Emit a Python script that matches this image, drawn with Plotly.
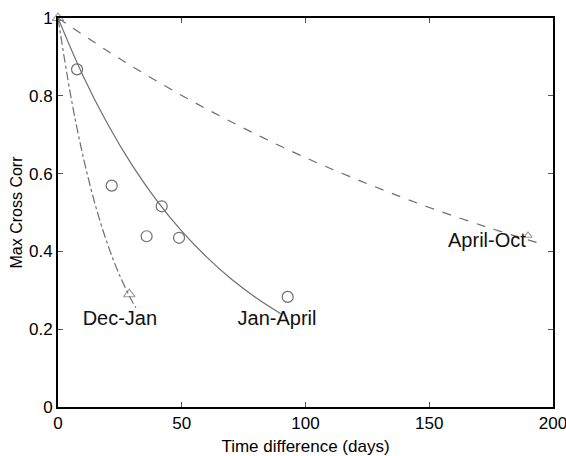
import plotly.graph_objects as go

# Fitted decay curves
janapr_x = [0, 10, 20, 30, 40, 50, 60, 70, 80, 90]
janapr_y = [1.0, 0.853, 0.728, 0.621, 0.530, 0.452, 0.386, 0.329, 0.281, 0.240]

decjan_x = [0, 5, 10, 15, 20, 25, 30, 31.5]
decjan_y = [1.0, 0.805, 0.648, 0.521, 0.419, 0.337, 0.271, 0.255]

aproct_x = [0, 25, 50, 75, 100, 125, 150, 175, 195]
aproct_y = [1.0, 0.895, 0.801, 0.717, 0.641, 0.574, 0.513, 0.459, 0.420]

# Observed points
circ_x = [7.7, 21.7, 35.8, 41.9, 48.9, 92.8]
circ_y = [0.868, 0.569, 0.439, 0.516, 0.435, 0.283]

tri_x = [0, 28.8, 189.9]
tri_y = [1.0, 0.29, 0.441]

labels = ["Dec-Jan", "Jan-April", "April-Oct"]
label_x = [25, 88.5, 173.3]
label_y = [0.223, 0.223, 0.423]

gray = "#6e6e6e"
FONT = "Liberation Sans, Arial"
fig = go.Figure()
fig.add_trace(go.Scatter(x=janapr_x, y=janapr_y, mode="lines", line_shape="spline",
                         line=dict(color=gray, width=1.2)))
fig.add_trace(go.Scatter(x=decjan_x, y=decjan_y, mode="lines", line_shape="spline",
                         line=dict(color=gray, width=1.2, dash="dashdot")))
fig.add_trace(go.Scatter(x=aproct_x, y=aproct_y, mode="lines", line_shape="spline",
                         line=dict(color=gray, width=1.2, dash="dash")))
fig.add_trace(go.Scatter(x=circ_x, y=circ_y, mode="markers", cliponaxis=False,
                         marker=dict(symbol="circle-open", size=11, color=gray,
                                     line=dict(width=1.2))))
fig.add_trace(go.Scatter(x=tri_x, y=tri_y, mode="markers", cliponaxis=False,
                         marker=dict(symbol="triangle-up-open", size=[10, 10, 7], color=gray,
                                     line=dict(width=1.1))))
fig.add_trace(go.Scatter(x=label_x, y=label_y, mode="text", text=labels,
                         textfont=dict(family=FONT, size=20, color="#111"),
                         cliponaxis=False))

axis_common = dict(showline=True, linecolor="black", linewidth=2, mirror="ticks",
                   ticks="inside", ticklen=5, tickcolor="#555", tickwidth=1,
                   showgrid=False, zeroline=False, automargin=False,
                   ticklabeloverflow="allow",
                   tickfont=dict(family=FONT, size=17, color="black"))
fig.update_layout(
    width=566, height=456, showlegend=False,
    margin=dict(l=58, r=13, t=18, b=49),
    paper_bgcolor="white", plot_bgcolor="white",
    xaxis=dict(range=[0, 200], tickvals=[0, 50, 100, 150, 200],
               title=dict(text="Time difference (days)",
                          font=dict(family=FONT, size=17, color="black")),
               **axis_common),
    yaxis=dict(range=[0, 1], tickvals=[0, 0.2, 0.4, 0.6, 0.8, 1],
               ticktext=["0", "0.2", "0.4", "0.6", "0.8", "1"],
               title=dict(text="Max Cross Corr", standoff=2,
                          font=dict(family=FONT, size=16, color="black")),
               **axis_common),
)
fig.write_html("out.html", config={"displayModeBar": False},
               post_script="document.body.style.margin='0';document.body.style.overflow='hidden';")
